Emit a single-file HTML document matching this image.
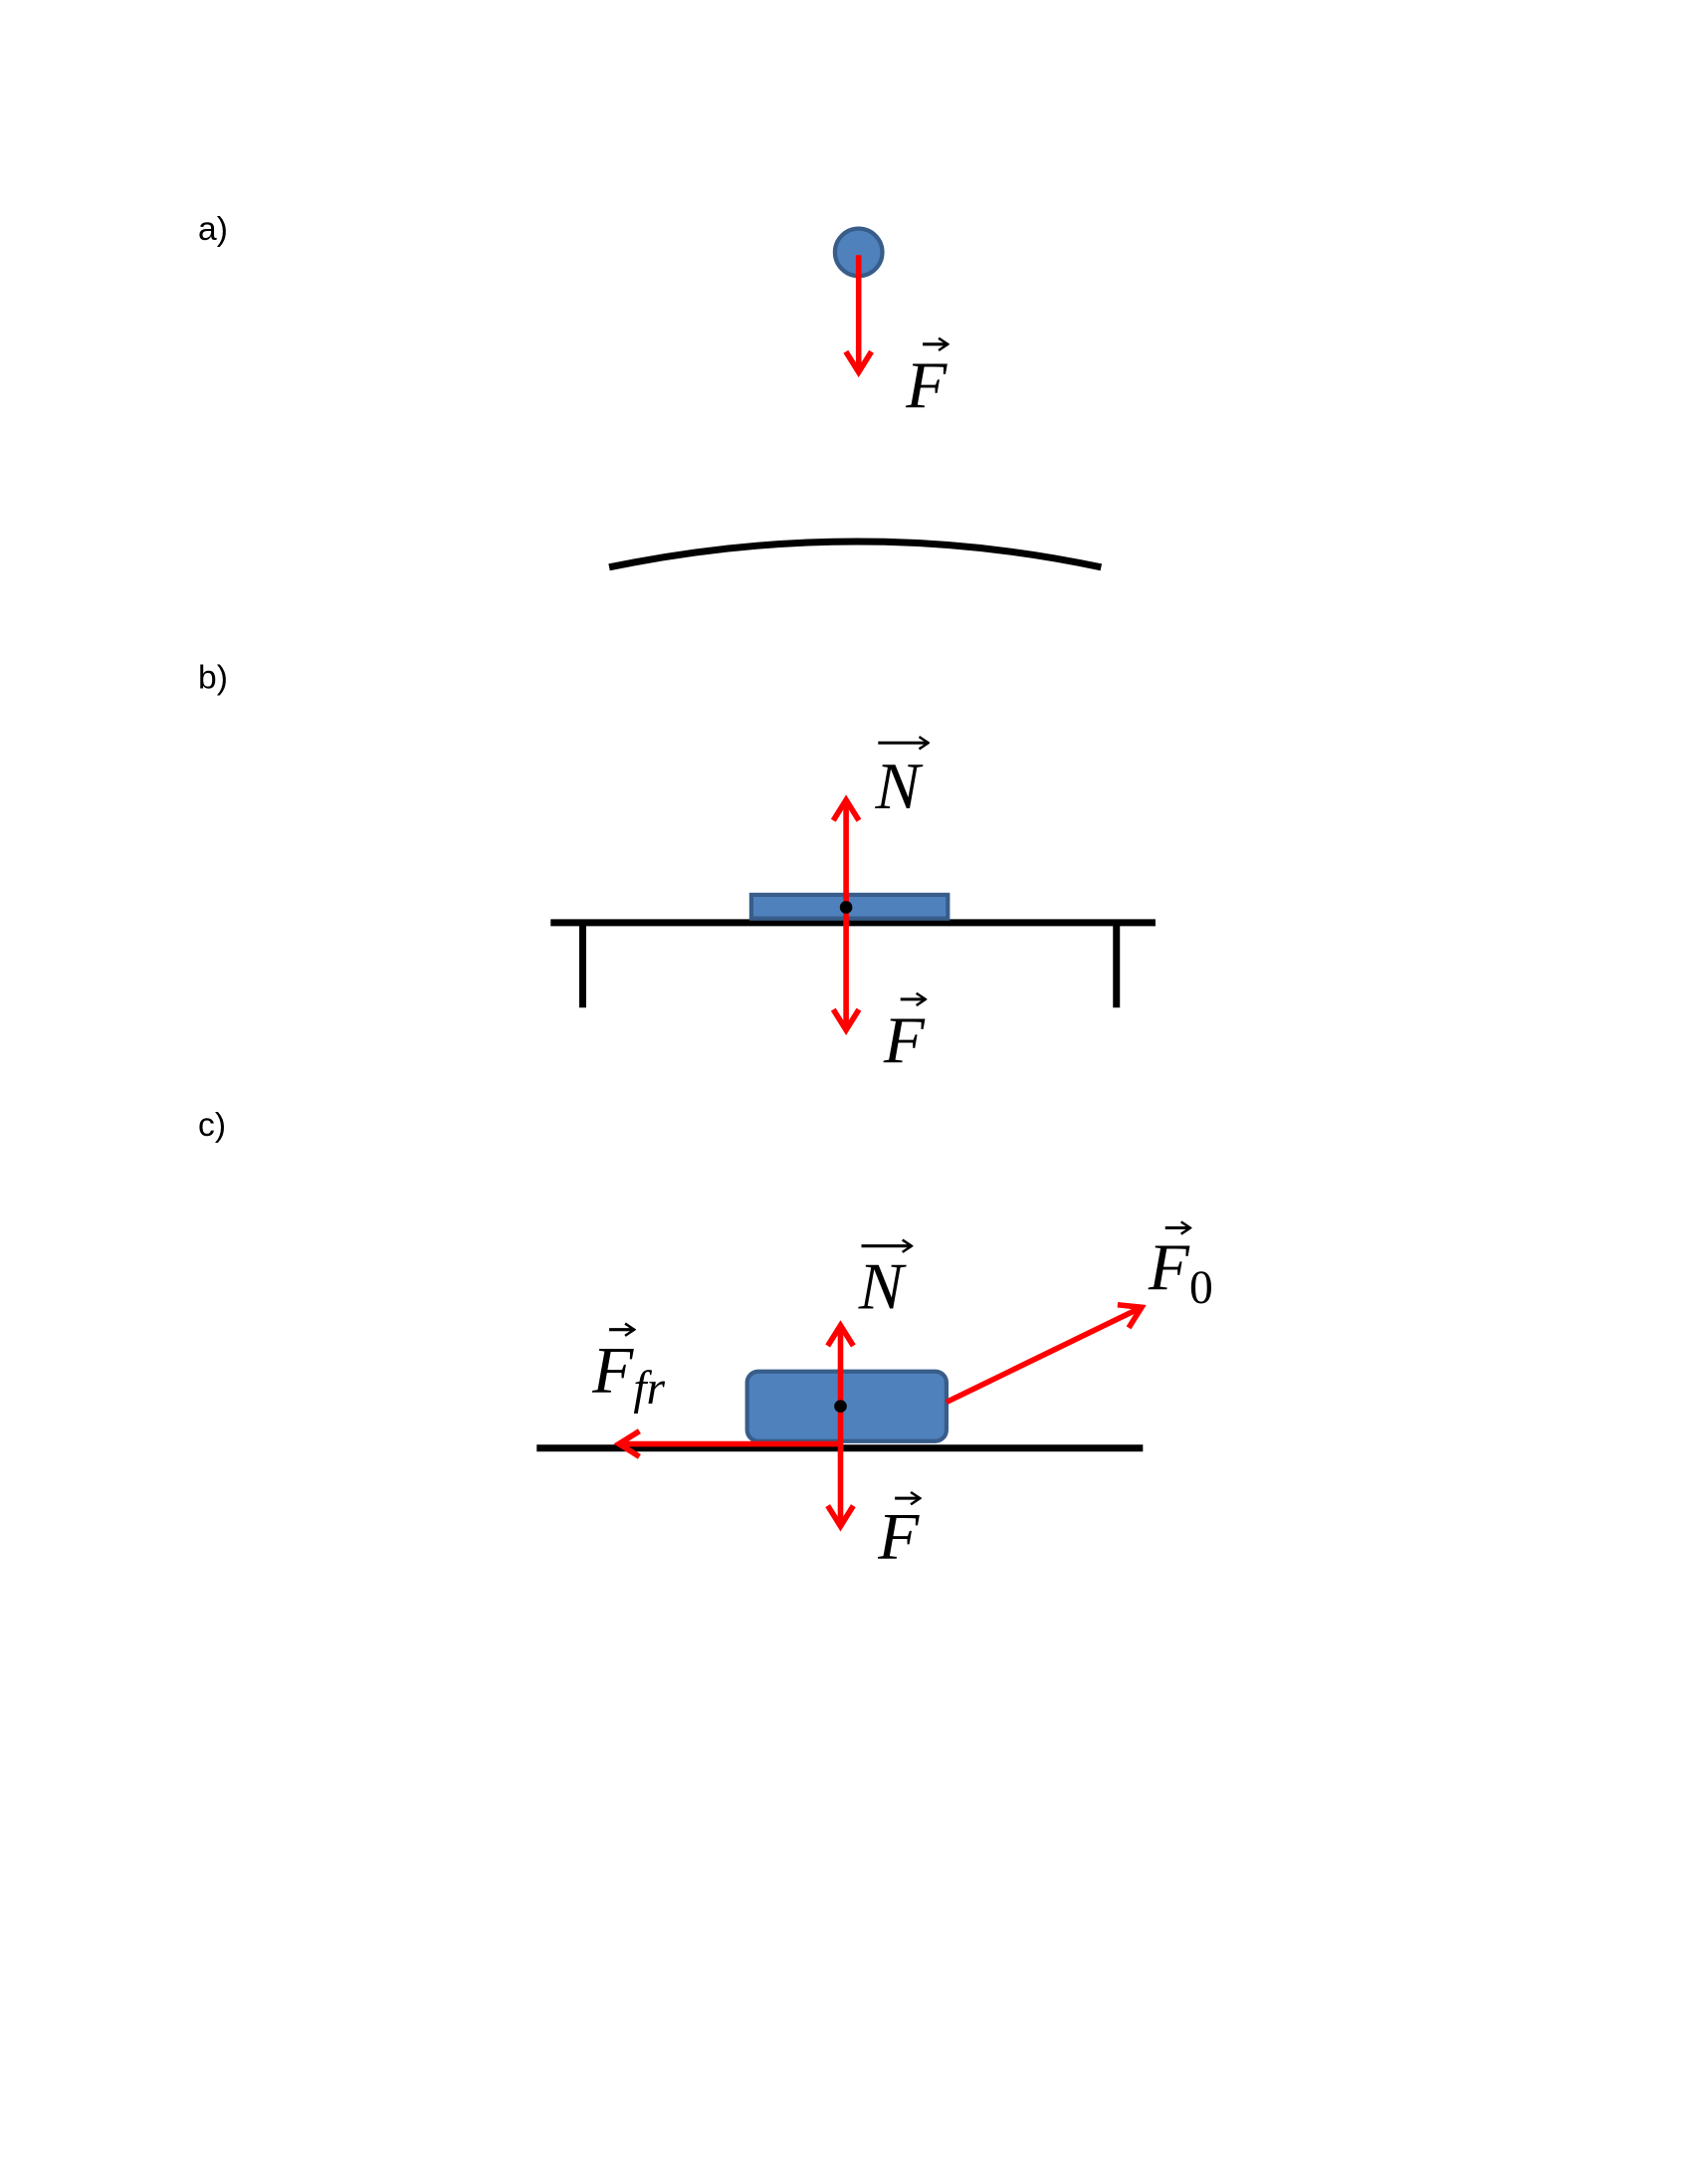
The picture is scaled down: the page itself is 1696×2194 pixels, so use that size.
<!DOCTYPE html>
<html><head><meta charset="utf-8"><style>html,body{margin:0;padding:0;background:#fff}svg{display:block}</style></head>
<body>
<svg width="1696" height="2194" viewBox="0 0 1211 1567" xmlns="http://www.w3.org/2000/svg">
<defs>
<marker id="ah" viewBox="0 0 12 12" refX="10" refY="6" markerWidth="5.5" markerHeight="5.5" orient="auto" markerUnits="strokeWidth">
<polyline points="2,1 10,6 2,11" fill="none" stroke="#ff0000" stroke-width="2.2" stroke-linejoin="miter"/>
</marker>
<marker id="va" viewBox="0 0 10 10" refX="9" refY="5" markerWidth="5" markerHeight="5" orient="auto" markerUnits="strokeWidth">
<polyline points="3,1 9,5 3,9" fill="none" stroke="#000" stroke-width="1.6"/>
</marker>
</defs>
<g font-family="Liberation Sans, sans-serif" font-size="24" fill="#000">
<text x="142" y="172">a)</text>
<text x="142" y="494">b)</text>
<text x="142" y="815">c)</text>
</g>
<!-- a -->
<circle cx="616" cy="181" r="17" fill="#4f81bd" stroke="#385d8a" stroke-width="3"/>
<line x1="616" y1="183" x2="616" y2="267" stroke="#f00" stroke-width="4" marker-end="url(#ah)"/>
<path d="M437 407 Q616 370 790 407" fill="none" stroke="#000" stroke-width="5"/>
<!-- b -->
<line x1="395" y1="662" x2="829" y2="662" stroke="#000" stroke-width="5"/>
<line x1="418" y1="662" x2="418" y2="723" stroke="#000" stroke-width="5"/>
<line x1="801" y1="662" x2="801" y2="723" stroke="#000" stroke-width="5"/>
<rect x="539" y="642" width="141" height="17" fill="#4f81bd" stroke="#385d8a" stroke-width="3"/>
<line x1="607" y1="651" x2="607" y2="574" stroke="#f00" stroke-width="4" marker-end="url(#ah)"/>
<line x1="607" y1="651" x2="607" y2="739" stroke="#f00" stroke-width="4" marker-end="url(#ah)"/>
<circle cx="607" cy="651" r="4.5" fill="#000"/>
<!-- c -->
<line x1="385" y1="1039" x2="820" y2="1039" stroke="#000" stroke-width="5"/>
<rect x="536" y="984" width="143" height="50" rx="8" fill="#4f81bd" stroke="#385d8a" stroke-width="3"/>
<line x1="603" y1="1036" x2="444" y2="1036" stroke="#f00" stroke-width="4" marker-end="url(#ah)"/>
<line x1="603" y1="1009" x2="603" y2="951" stroke="#f00" stroke-width="4" marker-end="url(#ah)"/>
<line x1="603" y1="1009" x2="603" y2="1095" stroke="#f00" stroke-width="4" marker-end="url(#ah)"/>
<line x1="679" y1="1006" x2="819" y2="938" stroke="#f00" stroke-width="4" marker-end="url(#ah)"/>
<circle cx="603" cy="1009" r="4.5" fill="#000"/>
<!-- labels -->
<g font-family="Liberation Serif, serif" font-style="italic" font-size="48" fill="#000">
<text x="650" y="292">F</text>
<text x="628" y="580">N</text>
<text x="634" y="762">F</text>
<text x="616" y="939">N</text>
<text x="824" y="925">F<tspan font-style="normal" font-size="34" dy="10">0</tspan></text>
<text x="425" y="999">F<tspan font-size="34" dy="8">fr</tspan></text>
<text x="630" y="1118">F</text>
</g>
<g stroke="#000" stroke-width="2.2" fill="none">
<line x1="662" y1="247" x2="680" y2="247" marker-end="url(#va)"/>
<line x1="630" y1="533" x2="666" y2="533" marker-end="url(#va)"/>
<line x1="646" y1="717" x2="664" y2="717" marker-end="url(#va)"/>
<line x1="618" y1="894" x2="654" y2="894" marker-end="url(#va)"/>
<line x1="836" y1="881" x2="854" y2="881" marker-end="url(#va)"/>
<line x1="437" y1="954" x2="455" y2="954" marker-end="url(#va)"/>
<line x1="642" y1="1075" x2="660" y2="1075" marker-end="url(#va)"/>
</g>
</svg>
</body></html>
